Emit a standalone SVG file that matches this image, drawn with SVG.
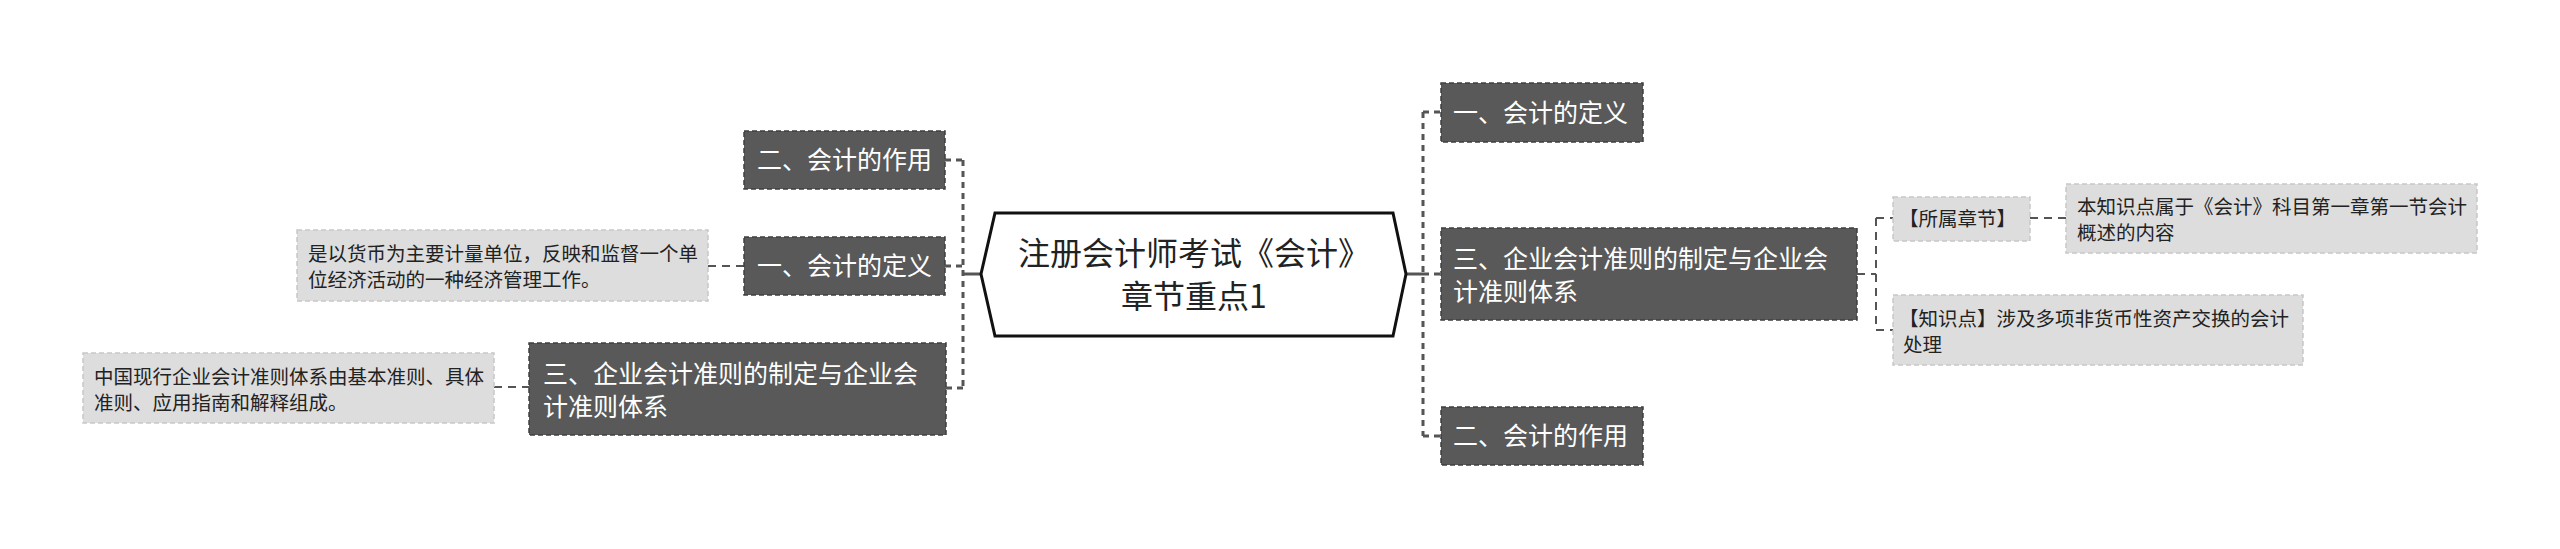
<svg xmlns="http://www.w3.org/2000/svg" width="2560" height="549" viewBox="0 0 2560 549">
<style>
text{font-family:"Noto Sans CJK SC","Liberation Sans",sans-serif;}
.dk{fill:#595959;stroke:#3f3f3f;stroke-width:1.5;stroke-dasharray:5,3;}
.lt{fill:#dddddd;stroke:#c8c8c8;stroke-width:1.5;stroke-dasharray:5,3;}
.dt{fill:#ffffff;font-size:25px;}
.lx{fill:#222222;font-size:19.5px;}
.c1{fill:none;stroke:#555555;stroke-width:3;stroke-dasharray:6,5;}
.c2{fill:none;stroke:#555555;stroke-width:2;stroke-dasharray:8,6;}
.cs{fill:none;stroke:#555555;stroke-width:3;}
</style>
<rect width="2560" height="549" fill="#ffffff"/>
<g id="connectors">
<path class="cs" d="M981,274 H963"/>
<path class="c1" d="M963,160 V388"/>
<path class="c1" d="M945,160 H963 M945,266 H963 M946,388 H963"/>
<path class="c2" d="M708,266 H744"/>
<path class="c2" d="M494,387 H529"/>
<path class="cs" d="M1406,274 H1423"/>
<path class="c1" d="M1423,112 V436"/>
<path class="c1" d="M1423,112 H1441 M1423,274 H1441 M1423,436 H1441"/>
<path class="c2" d="M1857,274 H1876 M1876,218 V330 M1876,218 H1893 M1876,330 H1893"/>
<path class="c2" d="M2030,218 H2066"/>
</g>
<g id="center">
<polygon points="981,274 995,213 1393,213 1406,274 1393,336 995,336" fill="#ffffff" stroke="#111111" stroke-width="3"/>
<text x="1194" y="265" text-anchor="middle" font-size="32" fill="#222222">注册会计师考试《会计》</text>
<text x="1194" y="308" text-anchor="middle" font-size="32" fill="#222222">章节重点1</text>
</g>
<g id="L-zuoyong">
<rect class="dk" x="744" y="131" width="201" height="58"/>
<text class="dt" x="757" y="169">二、会计的作用</text>
</g>
<g id="L-dingyi">
<rect class="dk" x="744" y="237" width="201" height="58"/>
<text class="dt" x="757" y="275">一、会计的定义</text>
</g>
<g id="L-dingyi-note">
<rect class="lt" x="297" y="230" width="411" height="71"/>
<text class="lx" x="308" y="261">是以货币为主要计量单位，反映和监督一个单</text>
<text class="lx" x="308" y="287">位经济活动的一种经济管理工作。</text>
</g>
<g id="L-zhunze">
<rect class="dk" x="529" y="343" width="417" height="92"/>
<text class="dt" x="543" y="383">三、企业会计准则的制定与企业会</text>
<text class="dt" x="543" y="416">计准则体系</text>
</g>
<g id="L-zhunze-note">
<rect class="lt" x="83" y="353" width="411" height="70"/>
<text class="lx" x="94" y="384">中国现行企业会计准则体系由基本准则、具体</text>
<text class="lx" x="94" y="410">准则、应用指南和解释组成。</text>
</g>
<g id="R-dingyi">
<rect class="dk" x="1441" y="83" width="202" height="59"/>
<text class="dt" x="1453" y="122">一、会计的定义</text>
</g>
<g id="R-zhunze">
<rect class="dk" x="1441" y="228" width="416" height="92"/>
<text class="dt" x="1453" y="268">三、企业会计准则的制定与企业会</text>
<text class="dt" x="1453" y="301">计准则体系</text>
</g>
<g id="R-zuoyong">
<rect class="dk" x="1441" y="407" width="202" height="58"/>
<text class="dt" x="1453" y="445">二、会计的作用</text>
</g>
<g id="R-suoshu">
<rect class="lt" x="1893" y="197" width="137" height="44"/>
<text class="lx" x="1899" y="226">【所属章节】</text>
</g>
<g id="R-suoshu-note">
<rect class="lt" x="2066" y="184" width="411" height="69"/>
<text class="lx" x="2077" y="214">本知识点属于《会计》科目第一章第一节会计</text>
<text class="lx" x="2077" y="240">概述的内容</text>
</g>
<g id="R-zhishidian">
<rect class="lt" x="1893" y="295" width="410" height="70"/>
<text class="lx" x="1899" y="326">【知识点】涉及多项非货币性资产交换的会计</text>
<text class="lx" x="1903" y="352">处理</text>
</g>
</svg>
